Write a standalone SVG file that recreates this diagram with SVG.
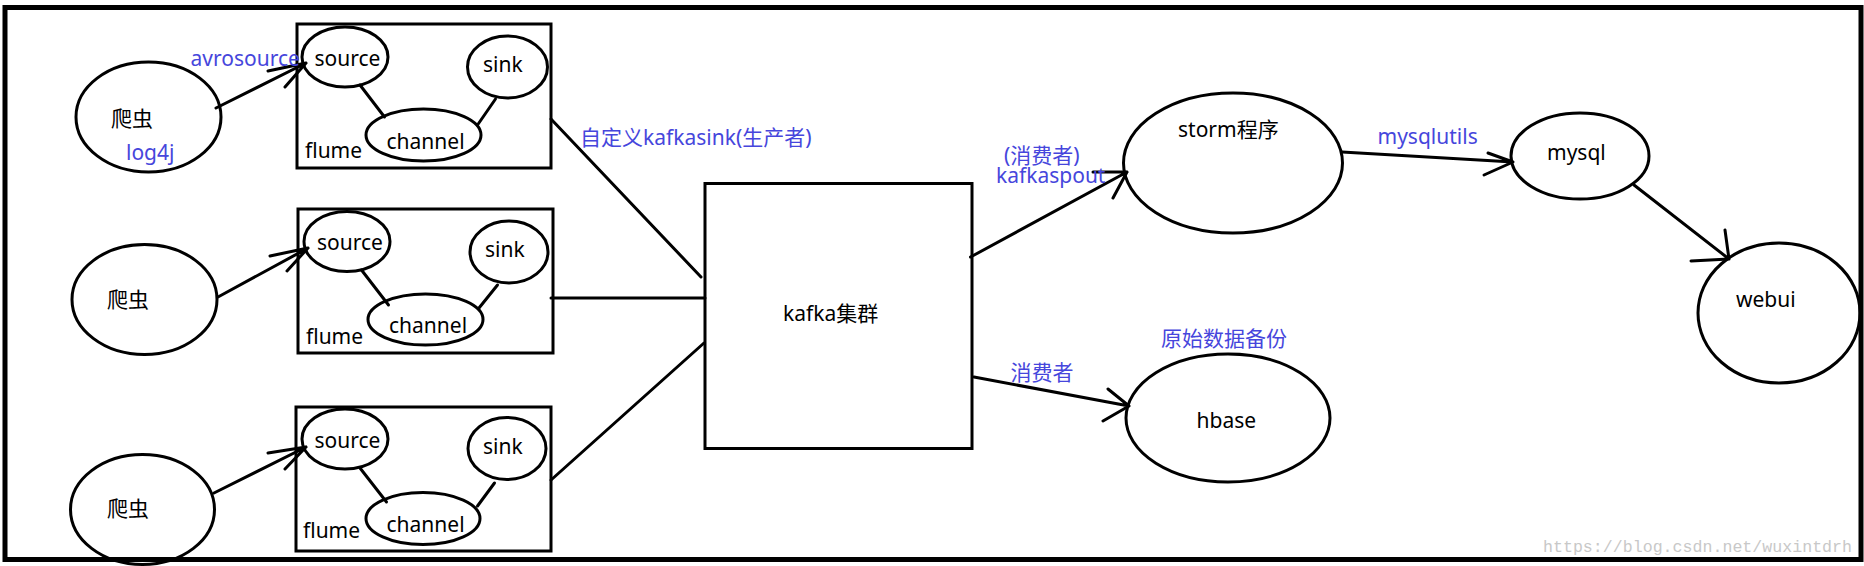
<svg xmlns="http://www.w3.org/2000/svg" width="1864" height="566" viewBox="0 0 1864 566">
<style>
  .shape { fill: none; stroke: #000; stroke-width: 3; }
  .frame { fill: none; stroke: #000; stroke-width: 5; }
  .conn { fill: none; stroke: #000; stroke-width: 3; stroke-linecap: round; stroke-linejoin: round; }
  .t { font-family: "Noto Sans", "Noto Sans CJK SC", sans-serif; font-size: 21px; fill: #000; }
  .b { font-family: "Noto Sans", "Noto Sans CJK SC", sans-serif; font-size: 21px; fill: #4646dc; }
  .wm { font-family: "Liberation Mono", monospace; font-size: 16.6px; fill: #c8c8c8; }
</style>
<rect width="1864" height="566" fill="#fff"/>
<rect class="frame" x="5" y="7.5" width="1856" height="552"/>

<g id="crawler1"><ellipse class="shape" cx="148.5" cy="117" rx="72.5" ry="55"/><text class="t" x="111" y="126">爬虫</text><text class="b" x="126" y="160">log4j</text></g>
<g id="crawler2"><ellipse class="shape" cx="144.5" cy="299.5" rx="72.5" ry="55"/><text class="t" x="107" y="307">爬虫</text></g>
<g id="crawler3"><ellipse class="shape" cx="142.5" cy="509.5" rx="72" ry="55"/><text class="t" x="107" y="516">爬虫</text></g>

<g id="flume1">
  <rect class="shape" x="297" y="24" width="254" height="144"/>
  <text class="t" x="305" y="158">flume</text>
  <g id="source1"><ellipse class="shape" cx="345" cy="57" rx="43" ry="30"/><text class="t" x="314.5" y="65.5">source</text></g>
  <g id="sink1"><ellipse class="shape" cx="507.5" cy="67" rx="40" ry="31"/><text class="t" x="483" y="71.5">sink</text></g>
  <g id="channel1"><ellipse class="shape" cx="423.5" cy="135" rx="57.5" ry="26"/><text class="t" x="386.5" y="149">channel</text></g>
</g>
<g id="flume2">
  <rect class="shape" x="298" y="209" width="255" height="144"/>
  <text class="t" x="306" y="344">flume</text>
  <g id="source2"><ellipse class="shape" cx="347" cy="241.5" rx="43" ry="30"/><text class="t" x="317" y="250">source</text></g>
  <g id="sink2"><ellipse class="shape" cx="509" cy="252" rx="39" ry="31"/><text class="t" x="485" y="257">sink</text></g>
  <g id="channel2"><ellipse class="shape" cx="425.5" cy="319.5" rx="57.5" ry="25.5"/><text class="t" x="389" y="333">channel</text></g>
</g>
<g id="flume3">
  <rect class="shape" x="296" y="407" width="255" height="144"/>
  <text class="t" x="303" y="538">flume</text>
  <g id="source3"><ellipse class="shape" cx="345" cy="439" rx="43" ry="30"/><text class="t" x="314.5" y="448">source</text></g>
  <g id="sink3"><ellipse class="shape" cx="507" cy="448.5" rx="39" ry="31"/><text class="t" x="483" y="454">sink</text></g>
  <g id="channel3"><ellipse class="shape" cx="423" cy="518.5" rx="57" ry="26"/><text class="t" x="386.5" y="532">channel</text></g>
</g>

<g id="kafka"><rect class="shape" x="705" y="183.5" width="267" height="265"/><text class="t" x="783" y="321">kafka集群</text></g>
<g id="storm"><ellipse class="shape" cx="1233" cy="163" rx="109.5" ry="70"/><text class="t" x="1178" y="137">storm程序</text></g>
<g id="mysql"><ellipse class="shape" cx="1580" cy="156" rx="69" ry="43"/><text class="t" x="1547" y="160">mysql</text></g>
<g id="webui"><ellipse class="shape" cx="1779" cy="313" rx="81" ry="70"/><text class="t" x="1736" y="306.5">webui</text></g>
<g id="hbase"><ellipse class="shape" cx="1228" cy="418" rx="102" ry="64"/><text class="t" x="1196.5" y="428">hbase</text></g>

<g id="connectors">
  <path class="conn" d="M216,108 L306,63 M268,71 L306,63 L285,87"/>
  <path class="conn" d="M218,297 L308,248 M270,256 L308,248 L287,271"/>
  <path class="conn" d="M214,493 L306,447 M268,453 L306,447 L285,469"/>
  <path class="conn" d="M360,85 L384.5,117"/>
  <path class="conn" d="M495.5,99 L477.5,125"/>
  <path class="conn" d="M361.5,270 L388.5,305"/>
  <path class="conn" d="M497.5,285 L479,308"/>
  <path class="conn" d="M360,468 L386.5,502"/>
  <path class="conn" d="M494.5,483 L477.5,506"/>
  <path class="conn" d="M551,119 L701,277"/>
  <path class="conn" d="M551,298 L705,298"/>
  <path class="conn" d="M551,480 L704,343"/>
  <path class="conn" d="M970.5,257 L1127,172 M1093,172 L1127,172 L1113,198"/>
  <path class="conn" d="M974,377 L1129,406 M1108,389 L1129,406 L1103,421"/>
  <path class="conn" d="M1342,152 L1513,162 M1488,153 L1513,162 L1484,175"/>
  <path class="conn" d="M1634,185 L1729,259 M1725,230 L1729,259 L1691,261"/>
  <text class="b" x="190.5" y="65.5">avrosource</text>
  <text class="b" x="580" y="145">自定义kafkasink(生产者)</text>
  <text class="b" x="1004" y="163">(消费者)</text>
  <text class="b" x="996" y="183">kafkaspout</text>
  <text class="b" x="1010.5" y="380">消费者</text>
  <text class="b" x="1377.5" y="144">mysqlutils</text>
  <text class="b" x="1161" y="346">原始数据备份</text>
</g>
<text class="wm" x="1543" y="552" textLength="309">https://blog.csdn.net/wuxintdrh</text>
</svg>
